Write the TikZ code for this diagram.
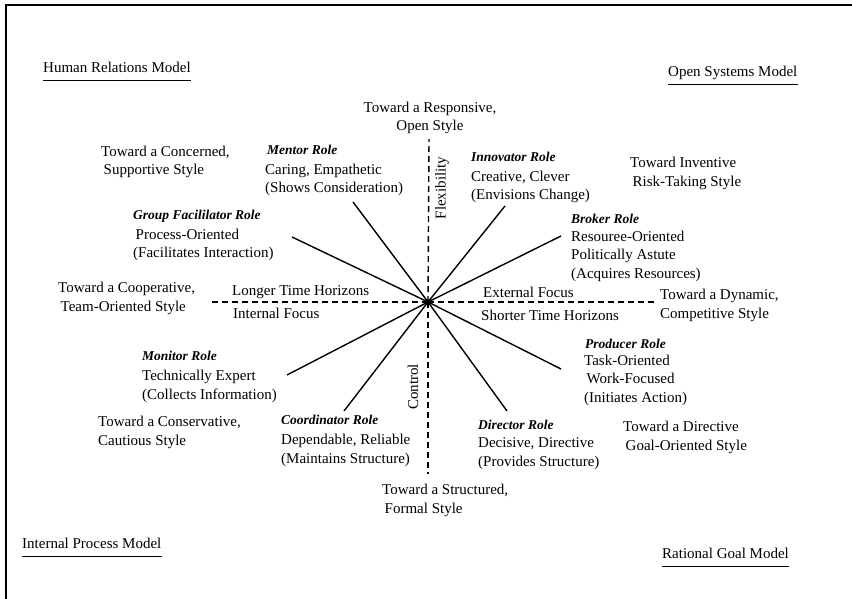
\documentclass[tikz,border=0pt]{standalone}
\usepackage{fontspec}
\setmainfont{Liberation Serif}
\begin{document}
\begin{tikzpicture}[x=1pt,y=-1pt,
  txt/.style={font=\fontsize{15}{18.5}\selectfont, align=left, anchor=base west, inner sep=0pt},
  ctxt/.style={font=\fontsize{15}{18}\selectfont, align=center, anchor=base, inner sep=0pt},
  role/.style={font=\fontsize{13.5}{18.5}\selectfont\bfseries\itshape, anchor=base west, inner sep=0pt},
  model/.style={font=\fontsize{15}{18}\selectfont, anchor=base west, inner sep=0pt},
  spoke/.style={line width=1.4pt},
  axis/.style={line width=1.4pt, dash pattern=on 6pt off 4pt},
  frame/.style={line width=1.6pt}]
\useasboundingbox (0,0) rectangle (852,599);
% frame
\draw[frame] (6,599) -- (6,5) -- (852,5);
% models
\node[model] (hrm) at (43,73) {Human Relations Model};
\node[model] (osm) at (668,77) {Open Systems Model};
\node[model] (ipm) at (22,548) {Internal Process Model};
\node[model] (rgm) at (662,558) {Rational Goal Model};
\foreach \m in {hrm,osm,ipm,rgm}
  \draw[line width=1pt] ([yshift=-8pt]\m.base west) -- ([yshift=-8pt]\m.base east);
% center and axes
\coordinate (c) at (428,302);
\coordinate (vt) at (429,139);
\coordinate (vb) at (428,474);
\coordinate (hl) at (212,302);
\coordinate (hr) at (655,302);
\draw[axis] (c) -- (vt);
\draw[axis] (c) -- (vb);
\draw[axis] (c) -- (hl);
\draw[axis] (c) -- (hr);
% spokes
\coordinate (pm) at (353,202);
\coordinate (pg) at (292,237);
\coordinate (pi) at (505,206);
\coordinate (pb) at (561,236);
\coordinate (pmo) at (287,375);
\coordinate (pc) at (344,411);
\coordinate (pp) at (561,369);
\coordinate (pd) at (507,411);
\foreach \p in {pm,pg,pi,pb,pmo,pc,pp,pd}
  \draw[spoke] (c) -- (\p);
\fill (c) circle (3pt);
% axis labels
\node[ctxt, rotate=90, anchor=center] (flex) at (442,188) {Flexibility};
\node[ctxt, rotate=90, anchor=center] (ctrl) at (413,387) {Control};
\node[txt] (lth) at (232,295) {Longer Time Horizons};
\node[txt] (inf) at (233,318) {Internal Focus};
\node[txt] (exf) at (483,297) {External Focus};
\node[txt] (sth) at (481,320) {Shorter Time Horizons};
% style labels (base = last line)
\node[ctxt] (tresp) at (430,131) {Toward a Responsive,\\Open Style};
\node[txt] (tstr) at (382,513) {Toward a Structured,\\\,Formal Style};
\node[txt] (tconc) at (101,175) {Toward a Concerned,\\\,Supportive Style};
\node[txt] (tinv) at (630,186) {Toward Inventive\\\,Risk-Taking Style};
\node[txt] (tcoop) at (58,311) {Toward a Cooperative,\\\,Team-Oriented Style};
\node[txt] (tdyn) at (660,318) {Toward a Dynamic,\\Competitive Style};
\node[txt] (tcons) at (98,445) {Toward a Conservative,\\Cautious Style};
\node[txt] (tdir) at (623,450) {Toward a Directive\\\,Goal-Oriented Style};
% roles
\node[role] (rmen) at (267,155) {Mentor Role};
\node[txt] (dmen) at (265,193) {Caring, Empathetic\\(Shows Consideration)};
\node[role] (rgrp) at (133,219) {Group Facililator Role};
\node[txt] (dgrp) at (133,258) {\,Process-Oriented\\(Facilitates Interaction)};
\node[role] (rinn) at (471,162) {Innovator Role};
\node[txt] (dinn) at (471,200) {Creative, Clever\\(Envisions Change)};
\node[role] (rbro) at (571,223) {Broker Role};
\node[txt] (dbro) at (571,278) {Resouree-Oriented\\Politically Astute\\(Acquires Resources)};
\node[role] (rmon) at (142,360) {Monitor Role};
\node[txt] (dmon) at (142,399) {Technically Expert\\(Collects Information)};
\node[role] (rcoo) at (281,424) {Coordinator Role};
\node[txt] (dcoo) at (281,463) {Dependable, Reliable\\(Maintains Structure)};
\node[role] (rpro) at (585,348) {Producer Role};
\node[txt] (dpro) at (584,402) {Task-Oriented\\\,Work-Focused\\(Initiates Action)};
\node[role] (rdir) at (478,429) {Director Role};
\node[txt] (ddir) at (478,466) {Decisive, Directive\\(Provides Structure)};
\end{tikzpicture}
\end{document}
